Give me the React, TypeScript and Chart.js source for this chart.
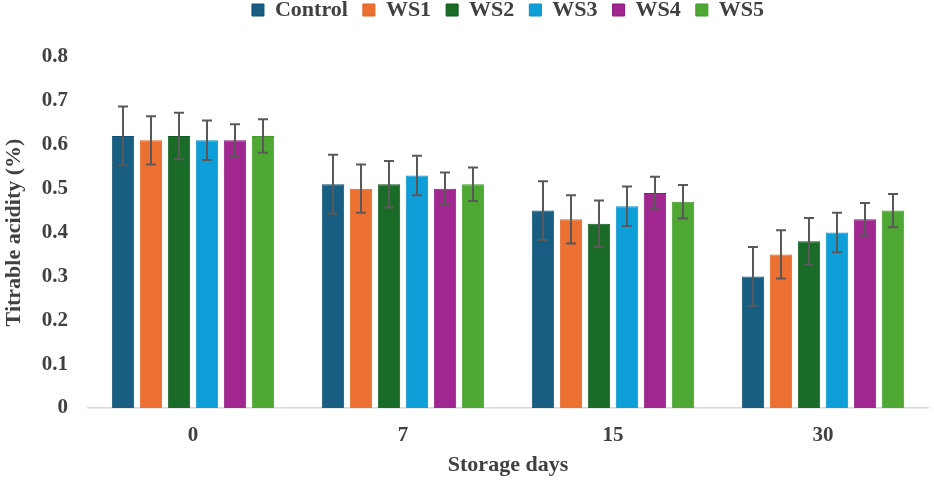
import { useEffect, useRef } from 'react'
import { Chart, registerables, Plugin } from 'chart.js'

Chart.register(...registerables)

const days = ['0', '7', '15', '30']
const seriesNames = ['Control', 'WS1', 'WS2', 'WS3', 'WS4', 'WS5']

const control = [0.62, 0.51, 0.45, 0.3]
const ws1 = [0.61, 0.5, 0.43, 0.35]
const ws2 = [0.62, 0.51, 0.42, 0.38]
const ws3 = [0.61, 0.53, 0.46, 0.4]
const ws4 = [0.61, 0.5, 0.49, 0.43]
const ws5 = [0.62, 0.51, 0.47, 0.45]

// error bar half-heights, one per series
const errors = [0.067, 0.055, 0.053, 0.045, 0.037, 0.038]

const yTicks = [0, 0.1, 0.2, 0.3, 0.4, 0.5, 0.6, 0.7, 0.8]

const fills = ['#175e82', '#ec7032', '#196b27', '#0f9fd8', '#9f278f', '#50a834']
const borders = ['#0f4f70', '#e0621f', '#0f5a1c', '#0a8fc6', '#8c1a7e', '#429a28']

const FONT = "'Liberation Serif', 'Times New Roman', serif"
const TEXT = '#404040'

const errorBars: Plugin<'bar'> = {
  id: 'errorBars',
  afterDatasetsDraw(chart) {
    const { ctx } = chart
    const y = chart.scales.y
    ctx.save()
    ctx.strokeStyle = '#595959'
    ctx.lineWidth = 2
    chart.data.datasets.forEach((ds, i) => {
      const meta = chart.getDatasetMeta(i)
      meta.data.forEach((bar, j) => {
        const v = ds.data[j] as number
        const e = errors[i]
        const top = y.getPixelForValue(v + e)
        const bot = y.getPixelForValue(v - e)
        const x = bar.x
        ctx.beginPath()
        ctx.moveTo(x, top)
        ctx.lineTo(x, bot)
        ctx.moveTo(x - 5, top)
        ctx.lineTo(x + 5, top)
        ctx.moveTo(x - 5, bot)
        ctx.lineTo(x + 5, bot)
        ctx.stroke()
      })
    })
    ctx.restore()
  },
}

// leave some room between the legend and the plot
const legendGap: Plugin<'bar'> = {
  id: 'legendGap',
  beforeLayout(chart) {
    const legend = chart.legend as any
    if (legend && !legend._gapPatched) {
      const fit = legend.fit
      legend.fit = function () {
        fit.call(this)
        this.height += 26
      }
      legend._gapPatched = true
    }
  },
}

export default function App() {
  const chartRef = useRef<HTMLCanvasElement | null>(null)

  useEffect(() => {
    document.body.style.margin = '0'
    let chartInstance: Chart | null = null
    if (chartRef.current) {
      const values = [control, ws1, ws2, ws3, ws4, ws5]
      chartInstance = new Chart(chartRef.current, {
        type: 'bar',
        data: {
          labels: days,
          datasets: seriesNames.map((name, i) => ({
            label: name,
            data: values[i],
            backgroundColor: fills[i],
            borderColor: borders[i],
            borderWidth: 1,
          })),
        },
        plugins: [errorBars, legendGap],
        options: {
          animation: false,
          responsive: false,
          maintainAspectRatio: false,
          layout: { padding: { top: -16, right: 6, bottom: 2, left: 0 } },
          datasets: {
            bar: { barPercentage: 0.8, categoryPercentage: 0.8 },
          },
          plugins: {
            legend: {
              position: 'top',
              fullSize: false,
              labels: {
                boxWidth: 12,
                boxHeight: 12,
                padding: 15,
                color: TEXT,
                font: { family: FONT, size: 22, weight: 'bold' },
              },
            },
            tooltip: { enabled: false },
          },
          scales: {
            x: {
              afterFit: (axis) => {
                axis.height = 71
              },
              grid: { display: false, drawTicks: false },
              border: { display: true, color: '#d9d9d9', width: 1.5 },
              ticks: {
                color: TEXT,
                padding: 15,
                font: { family: FONT, size: 21, weight: 'bold' },
              },
              title: {
                display: true,
                text: 'Storage days',
                color: TEXT,
                padding: { top: 0, bottom: 0 },
                font: { family: FONT, size: 22, weight: 'bold' },
              },
            },
            y: {
              min: 0,
              max: 0.8,
              afterBuildTicks: (axis) => {
                axis.ticks = yTicks.map((v) => ({ value: v }))
              },
              afterFit: (axis) => {
                axis.width = 88
              },
              grid: { display: false, drawTicks: false },
              border: { display: false },
              ticks: {
                color: TEXT,
                padding: 20,
                font: { family: FONT, size: 21, weight: 'bold' },
                callback: (v) => String(Number(v)),
              },
              title: {
                display: true,
                text: 'Titrable acidity (%)',
                color: TEXT,
                padding: { top: 1, bottom: 0 },
                font: { family: FONT, size: 22, weight: 'bold' },
              },
            },
          },
        },
      })
    }
    return () => {
      if (chartInstance) chartInstance.destroy()
    }
  }, [])

  return (
    <div style={{ width: 934, height: 481, background: '#fff' }}>
      <canvas ref={chartRef} width={934} height={481} />
    </div>
  )
}
